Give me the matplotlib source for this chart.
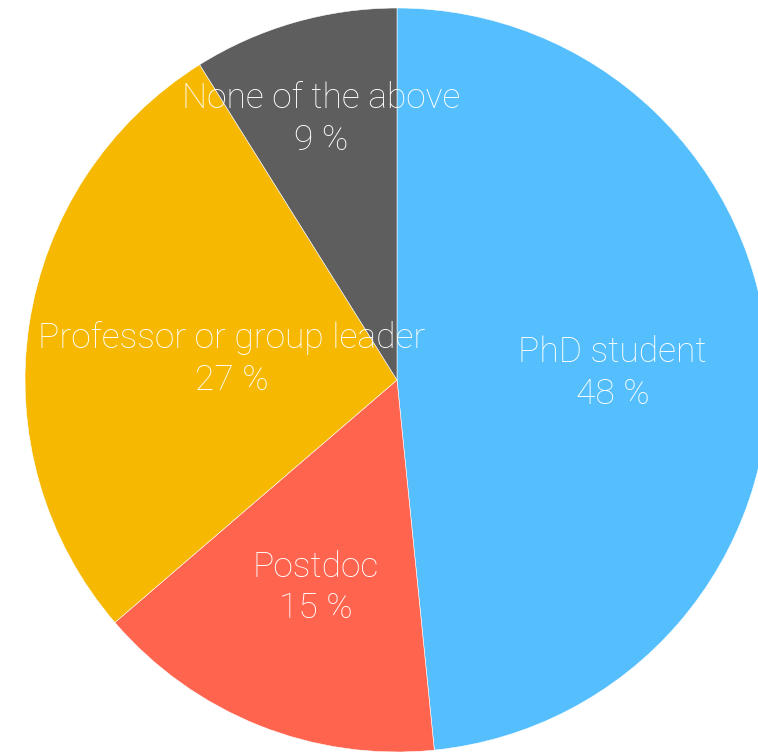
import numpy as np
import matplotlib
matplotlib.use("Agg")
import matplotlib.pyplot as plt
from matplotlib.transforms import offset_copy

categories = ["PhD student", "Postdoc", "Professor or group leader", "None of the above"]
values = [48.4, 15.3, 27.4, 8.9]
pct_labels = [48, 15, 27, 9]
colors = ["#55BFFE", "#FF644E", "#F6B800", "#5E5E5E"]
label_dist = [0.58, 0.59, 0.45, 0.74]

fig = plt.figure(figsize=(7.58, 7.54), dpi=100)
W, H = 758, 754
cx, cy, r = 397, 380, 372
ax = fig.add_axes([(cx - r) / W, (H - cy - r) / H, 2 * r / W, 2 * r / H])
wedges, _ = ax.pie(values, colors=colors, startangle=90, counterclock=False,
                   radius=1.0, wedgeprops=dict(edgecolor="white", linewidth=0.4))
ax.set_xlim(-1, 1)
ax.set_ylim(-1, 1)
ax.set_aspect("equal")

trans = offset_copy(ax.transData, fig=fig, x=0, y=-4, units="dots")
for w, cat, p, d in zip(wedges, categories, pct_labels, label_dist):
    ang = np.deg2rad((w.theta1 + w.theta2) / 2)
    ax.text(d * np.cos(ang), d * np.sin(ang), f"{cat}\n{p} %", transform=trans,
            ha="center", va="center", color="white", fontsize=25.5,
            family="Roboto", fontweight="light", linespacing=1.3)

fig.savefig("out.png", dpi=100)
